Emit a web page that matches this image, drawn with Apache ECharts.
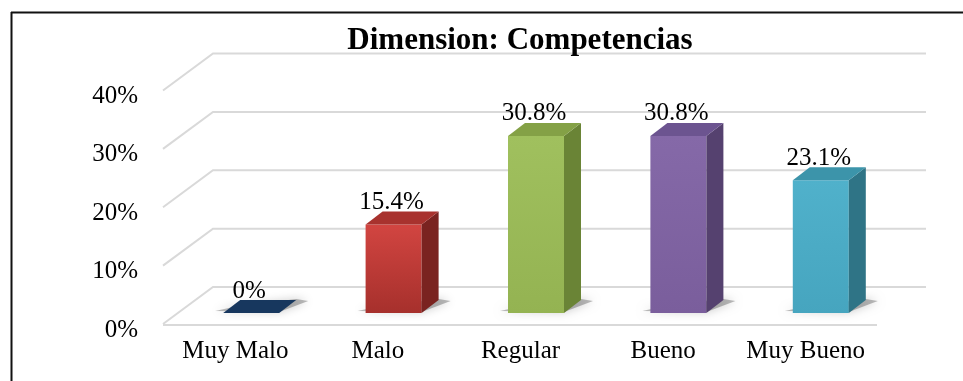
<!DOCTYPE html>
<html><head><meta charset="utf-8">
<script src="https://cdn.jsdelivr.net/npm/echarts@6/dist/echarts.min.js"></script>
<style>html,body{margin:0;padding:0;background:#fff}#c{width:963px;height:381px}</style>
</head><body><div id="c"></div>
<script>
// ---- data ----
const titleText = 'Dimension: Competencias';
const categories = ['Muy Malo', 'Malo', 'Regular', 'Bueno', 'Muy Bueno'];
const values = [0, 15.4, 30.8, 30.8, 23.1];
const valueLabels = ['0%', '15.4%', '30.8%', '30.8%', '23.1%'];
const tickValues = [0, 10, 20, 30, 40];

// ---- styles ----
const frontTop = ['#1F4470', '#D24541', '#A0C05E', '#8569A8', '#50B1CB'];
const frontBottom = ['#17375E', '#A6302C', '#94B352', '#7A5E9C', '#46A5BF'];
const sideColors = ['#12304F', '#7A2320', '#6A8436', '#55416F', '#2F7486'];
const topColors = ['#17375E', '#A8322E', '#84A146', '#6C5490', '#3C94AA'];
const FONT = '"Liberation Serif", "Times New Roman", serif';

const chart = echarts.init(document.getElementById('c'), null, {renderer: 'canvas'});

function gridItem(params, api) {
  const v = api.value(1);
  const p = api.coord([0, v]);
  const cs = params.coordSys;
  const x0 = cs.x, y = p[1];
  const st = {stroke: '#D9D9D9', lineWidth: 2, fill: null};
  const children = [
    {type: 'polyline', shape: {points: [[x0 - 1, y - 6], [x0 + 49, y - 43], [x0 + 762, y - 43]]}, style: st}
  ];
  if (v === 0) {
    children.push({type: 'line', shape: {x1: x0 - 1, y1: y - 5, x2: x0 + cs.width, y2: y - 5}, style: st});
  }
  return {type: 'group', children};
}

function barItem(params, api) {
  const i = api.value(0), v = api.value(1);
  const base = api.coord([i, 0]);
  const top = api.coord([i, v]);
  const w = 56, dx = 17, dy = -13;
  const xL = base[0] - w / 2, xR = xL + w;
  const yB = base[1], yT = top[1];
  const children = [];
  // soft base shadow
  children.push({
    type: 'polygon',
    shape: {points: [[xL - 8, yB - 2], [xR, yB - 1], [xR + dx + 12, yB + dy + 1], [xR + dx, yB + dy - 1], [xL + 10, yB - 6]]},
    style: {fill: 'rgba(60,60,60,0.35)', shadowBlur: 10, shadowColor: 'rgba(0,0,0,0.6)'}
  });
  if (v > 0) {
    children.push({
      type: 'rect', shape: {x: xL, y: yT, width: w, height: yB - yT},
      style: {fill: new echarts.graphic.LinearGradient(0, 0, 0, 1, [
        {offset: 0, color: frontTop[i]}, {offset: 1, color: frontBottom[i]}])}
    });
    children.push({
      type: 'polygon',
      shape: {points: [[xR, yB], [xR, yT], [xR + dx, yT + dy], [xR + dx, yB + dy]]},
      style: {fill: sideColors[i]}
    });
  }
  children.push({
    type: 'polygon',
    shape: {points: [[xL, yT], [xR, yT], [xR + dx, yT + dy], [xL + dx, yT + dy]]},
    style: {fill: topColors[i]}
  });
  children.push({
    type: 'text',
    style: {
      text: valueLabels[i], x: base[0] - 2, y: yT - 22,
      align: 'center', verticalAlign: 'middle',
      fontFamily: FONT, fontSize: 25, fill: '#000'
    }
  });
  return {type: 'group', children};
}

const option = {
  backgroundColor: '#fff',
  animation: false,
  grid: [
    {left: 180, right: 71, top: 83, bottom: 68},
    {left: 164, right: 86, top: 96.5, bottom: 51}
  ],
  xAxis: [
    {type: 'category', gridIndex: 0, data: categories, show: false},
    {type: 'category', gridIndex: 1, data: categories,
      axisLine: {show: false}, axisTick: {show: false},
      axisLabel: {interval: 0, fontFamily: FONT, fontSize: 25, color: '#000', margin: 9}}
  ],
  yAxis: [
    {type: 'value', gridIndex: 0, min: 0, max: 40, interval: 10, show: false},
    {type: 'value', gridIndex: 1, min: 0, max: 40, interval: 10,
      axisLine: {show: false}, axisTick: {show: false}, splitLine: {show: false},
      axisLabel: {fontFamily: FONT, fontSize: 25, color: '#000', margin: 26,
        formatter: v => v + '%'}}
  ],
  series: [
    {type: 'custom', xAxisIndex: 1, yAxisIndex: 1, silent: true,
      data: tickValues.map(v => [0, v]), renderItem: gridItem, z: 1},
    {type: 'custom', xAxisIndex: 0, yAxisIndex: 0, silent: true,
      data: values.map((v, i) => [i, v]), renderItem: barItem, z: 2}
  ],
  graphic: [
    {type: 'line', shape: {x1: 11, y1: 12.5, x2: 963, y2: 12.5}, style: {stroke: '#111', lineWidth: 2}},
    {type: 'line', shape: {x1: 11.5, y1: 12, x2: 11.5, y2: 381}, style: {stroke: '#111', lineWidth: 2}},
    {type: 'text', x: 520, y: 41, z: 10,
      style: {text: titleText, align: 'center', verticalAlign: 'middle',
        fontFamily: FONT, fontSize: 31, fontWeight: 'bold', fill: '#000'}}
  ]
};
chart.setOption(option);
</script></body></html>
